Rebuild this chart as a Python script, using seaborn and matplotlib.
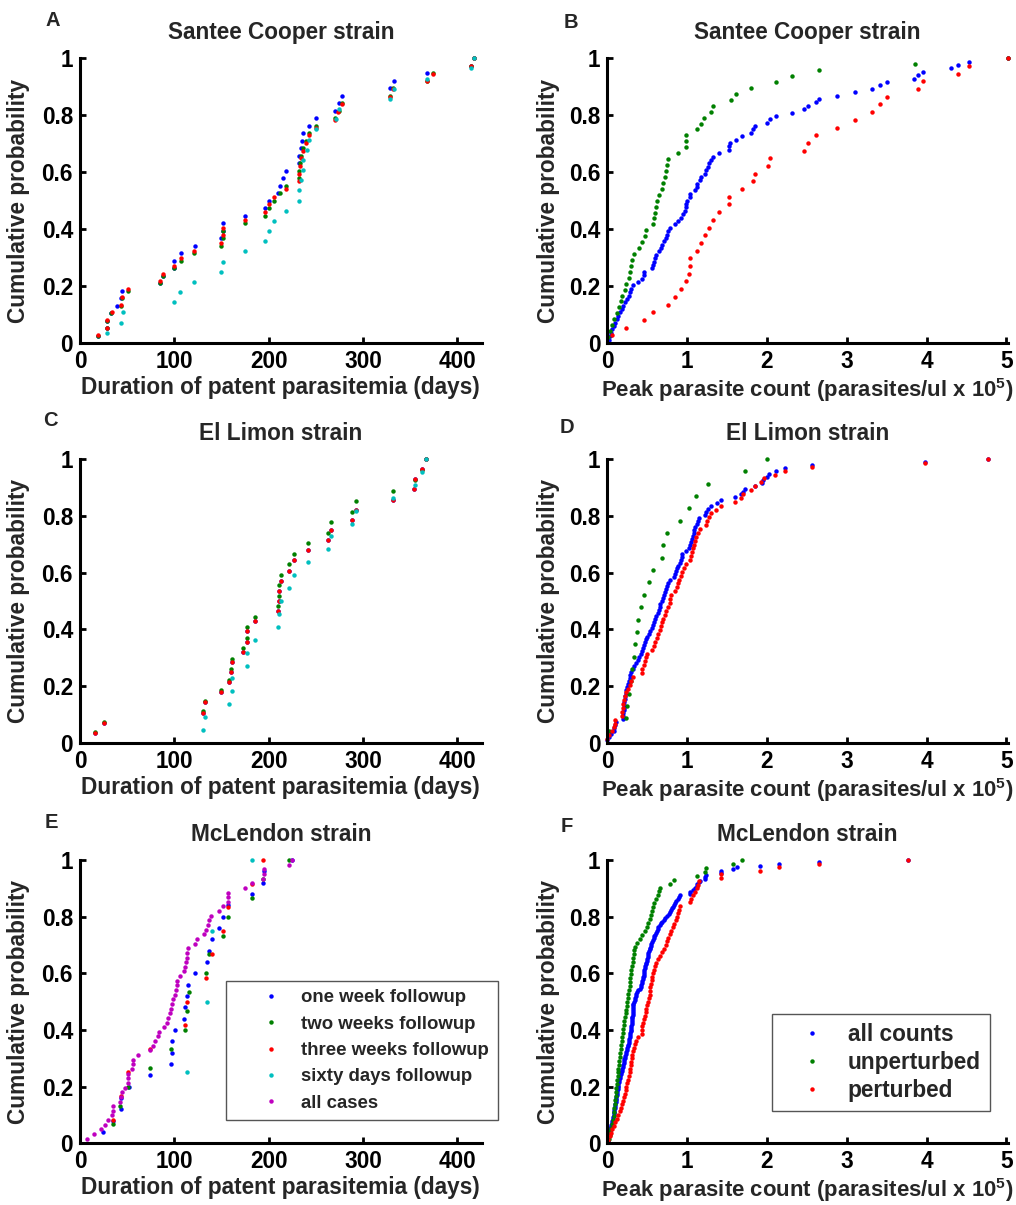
import matplotlib
matplotlib.use("Agg")
import matplotlib.pyplot as plt
import seaborn as sns

# ---------------- data (x values of each empirical CDF) ----------------
# Panel A - Santee Cooper, duration (days)
a_one = [19, 29, 29, 33, 39, 43, 45, 85, 88, 100, 100, 107, 122, 150, 152, 152, 175, 196, 200,
         210, 212, 215, 218, 232, 232, 234, 235, 237, 243, 250, 270, 275, 278, 329, 333, 368, 415, 418]
a_two = [19, 29, 29, 33, 43, 45, 51, 85, 88, 100, 107, 121, 149, 152, 152, 175, 196, 200, 206,
         212, 218, 232, 232, 233, 234, 236, 240, 243, 250, 270, 275, 278, 329, 332, 368, 374, 415, 418]
a_three = [19, 29, 29, 34, 43, 45, 51, 85, 88, 100, 107, 121, 149, 152, 152, 175, 196, 200, 206,
           218, 232, 232, 233, 234, 237, 240, 243, 250, 270, 274, 278, 329, 332, 368, 374, 415, 418]
a_sixty = [29, 43, 46, 100, 106, 121, 149, 152, 175, 196, 200, 206, 218, 232, 232, 234, 236, 237,
           241, 243, 250, 271, 275, 329, 333, 368, 415, 418]

# Panel B - Santee Cooper, peak count (x 1e5)
b_all = [0.02, 0.03, 0.05, 0.06, 0.08, 0.10, 0.12, 0.14, 0.16, 0.18, 0.20, 0.22, 0.25, 0.27, 0.28,
         0.30, 0.32, 0.38, 0.43, 0.46, 0.46, 0.56, 0.57, 0.58, 0.60, 0.61, 0.65, 0.67, 0.69, 0.71,
         0.73, 0.75, 0.76, 0.78, 0.85, 0.88, 0.92, 0.95, 0.97, 0.98, 0.99, 1.00, 1.04, 1.04, 1.10,
         1.12, 1.13, 1.16, 1.18, 1.22, 1.24, 1.26, 1.28, 1.30, 1.33, 1.40, 1.53, 1.53, 1.54, 1.61,
         1.69, 1.80, 1.82, 1.85, 2.00, 2.04, 2.11, 2.31, 2.46, 2.52, 2.61, 2.65, 2.88, 3.10, 3.31,
         3.42, 3.51, 3.84, 3.89, 3.95, 4.31, 4.39, 4.53, 5.02]
b_unpert = [0.01, 0.03, 0.06, 0.09, 0.12, 0.15, 0.17, 0.19, 0.22, 0.23, 0.27, 0.29, 0.30, 0.31,
            0.34, 0.40, 0.44, 0.47, 0.48, 0.57, 0.58, 0.60, 0.61, 0.62, 0.65, 0.68, 0.70, 0.72,
            0.74, 0.75, 0.76, 0.88, 0.98, 0.98, 0.99, 1.12, 1.18, 1.21, 1.30, 1.33, 1.55, 1.61,
            1.80, 2.11, 2.31, 2.65, 3.85, 5.02]
b_pert = [0.06, 0.24, 0.46, 0.57, 0.76, 0.85, 0.92, 0.98, 1.02, 1.04, 1.04, 1.13, 1.18, 1.22,
          1.28, 1.32, 1.40, 1.53, 1.53, 1.69, 1.82, 1.85, 2.01, 2.04, 2.46, 2.51, 2.61, 2.88,
          3.10, 3.31, 3.42, 3.51, 3.89, 3.95, 4.39, 4.53, 5.02]

# Panel C - El Limon, duration (days)
c_one = [16, 25, 130, 133, 150, 158, 160, 161, 173, 177, 177, 186, 210, 211, 211, 213, 222, 227,
         242, 263, 266, 288, 293, 332, 354, 355, 363, 367]
c_two = [16, 25, 130, 133, 150, 158, 160, 161, 173, 177, 177, 186, 210, 211, 211, 213, 222, 227,
         242, 263, 266, 288, 293, 332, 355, 363, 367]
c_three = [16, 25, 130, 133, 150, 158, 160, 161, 173, 177, 177, 186, 210, 211, 211, 213, 222, 227,
           242, 263, 266, 288, 293, 332, 354, 355, 363, 367]
c_sixty = [130, 133, 158, 161, 161, 177, 177, 186, 210, 211, 213, 222, 227, 242, 263, 266, 288,
           293, 332, 355, 363, 367]

# Panel D - El Limon, peak count (x 1e5)
d_all = [0.0, 0.02, 0.05, 0.08, 0.09, 0.10, 0.11, 0.20, 0.20, 0.20, 0.205, 0.21, 0.21, 0.215,
         0.22, 0.225, 0.23, 0.24, 0.25, 0.26, 0.27, 0.28, 0.29, 0.30, 0.32, 0.34, 0.36, 0.38,
         0.40, 0.42, 0.43, 0.445, 0.46, 0.475, 0.49, 0.50, 0.52, 0.54, 0.555, 0.57, 0.585, 0.60,
         0.615, 0.63, 0.645, 0.655, 0.665, 0.68, 0.70, 0.715, 0.725, 0.735, 0.75, 0.765, 0.78,
         0.84, 0.85, 0.86, 0.87, 0.89, 0.91, 0.92, 0.93, 0.94, 0.99, 1.02, 1.04, 1.05, 1.06,
         1.07, 1.08, 1.09, 1.10, 1.12, 1.14, 1.15, 1.23, 1.24, 1.26, 1.30, 1.37, 1.43, 1.60,
         1.68, 1.70, 1.73, 1.85, 1.94, 1.95, 2.00, 2.02, 2.11, 2.23, 2.57, 3.98, 4.77]
d_unpert = [0.02, 0.24, 0.25, 0.27, 0.30, 0.31, 0.34, 0.35, 0.37, 0.38, 0.42, 0.46, 0.52, 0.57,
            0.69, 0.70, 0.745, 0.905, 1.02, 1.11, 1.26, 1.73, 2.00]
d_pert = [0.0, 0.02, 0.06, 0.08, 0.10, 0.10, 0.19, 0.19, 0.20, 0.20, 0.21, 0.22, 0.24, 0.26,
          0.28, 0.30, 0.32, 0.43, 0.44, 0.46, 0.47, 0.48, 0.50, 0.56, 0.58, 0.60, 0.62, 0.64,
          0.655, 0.67, 0.69, 0.70, 0.72, 0.74, 0.76, 0.78, 0.79, 0.80, 0.85, 0.87, 0.885, 0.90,
          0.92, 0.94, 0.96, 0.99, 1.04, 1.05, 1.06, 1.07, 1.08, 1.10, 1.11, 1.14, 1.16, 1.24,
          1.25, 1.28, 1.30, 1.36, 1.43, 1.60, 1.67, 1.70, 1.80, 1.85, 1.93, 1.96, 2.10, 2.22,
          2.57, 3.98, 4.77]

# Panel E - McLendon, duration (days)
e_one = [24.8, 35.4, 43, 44, 52, 74, 96.6, 98, 98, 101, 110, 111.5, 113, 115, 122, 134.5, 137,
         140, 147.6, 152, 157, 182, 194, 195, 225]
e_two = [35.4, 42.5, 51, 74, 96.6, 111.5, 113, 115.8, 134, 137, 152, 157, 182, 194, 222]
e_three = [35.4, 43, 51, 74, 111.5, 113, 134, 140, 152, 157, 182, 194]
e_sixty = [113, 134.5, 140, 182]
e_all = [7.8, 15, 22, 26.5, 30, 33.6, 35.4, 35.4, 42.5, 43, 45, 47.8, 50.6, 51, 51, 55, 56, 56,
         61, 74, 77, 80, 83, 84, 89.6, 92, 93, 95.6, 96.6, 98, 99, 101, 102, 103, 103, 106, 110,
         111, 112, 113, 113, 115, 122, 124.6, 131, 134, 135.6, 137, 139, 147.6, 152, 157, 157,
         157, 175, 182, 194, 195, 195.5, 222, 225]

# Panel F - McLendon, peak count (x 1e5)
f_all = [0.005, 0.01, 0.015, 0.02, 0.025, 0.03, 0.035, 0.04, 0.045, 0.05, 0.055, 0.06, 0.068,
         0.075, 0.08, 0.083, 0.087, 0.09, 0.094, 0.098, 0.10, 0.105, 0.108, 0.112, 0.115, 0.12,
         0.123, 0.127, 0.13, 0.133, 0.137, 0.14, 0.145, 0.15, 0.155, 0.16, 0.168, 0.175, 0.18,
         0.19, 0.195, 0.20, 0.205, 0.21, 0.215, 0.22, 0.225, 0.23, 0.238, 0.245, 0.252, 0.26,
         0.265, 0.268, 0.272, 0.276, 0.28, 0.284, 0.288, 0.292, 0.295, 0.298, 0.302, 0.306,
         0.308, 0.31, 0.312, 0.314, 0.316, 0.318, 0.32, 0.322, 0.324, 0.326, 0.327,
         0.335, 0.342, 0.349, 0.356, 0.363, 0.37, 0.39, 0.41, 0.42, 0.427, 0.434, 0.44, 0.445,
         0.45, 0.455, 0.458, 0.462, 0.466, 0.47, 0.476, 0.482, 0.488, 0.494, 0.50, 0.505, 0.51,
         0.516, 0.525, 0.532, 0.539, 0.546, 0.553, 0.56, 0.57, 0.58, 0.59, 0.60, 0.61, 0.62,
         0.63, 0.64, 0.66, 0.675, 0.69, 0.705, 0.725, 0.745, 0.77, 0.79, 0.80, 0.815, 0.825,
         0.838, 0.85, 0.865, 0.88, 0.895, 0.914, 1.03, 1.04, 1.07, 1.10, 1.12, 1.13, 1.15, 1.16,
         1.22, 1.23, 1.24, 1.42, 1.43, 1.58, 1.62, 1.91, 2.15, 2.65, 3.77]
f_unpert = [0.02, 0.03, 0.04, 0.05, 0.06, 0.07, 0.08, 0.085, 0.09, 0.095, 0.10, 0.105, 0.11,
            0.115, 0.12, 0.125, 0.13, 0.135, 0.14, 0.145, 0.15, 0.155, 0.16, 0.17, 0.175, 0.18,
            0.19, 0.195, 0.20, 0.21, 0.215, 0.22, 0.23, 0.24, 0.245, 0.25, 0.26, 0.265, 0.27,
            0.28, 0.285, 0.29, 0.295, 0.30, 0.31, 0.32, 0.325, 0.33, 0.34, 0.35, 0.37, 0.41,
            0.44, 0.47, 0.50, 0.515, 0.53, 0.545, 0.56, 0.575, 0.59, 0.61, 0.63, 0.65, 0.66,
            0.79, 0.83, 1.13, 1.22, 1.24, 1.58, 1.69]
f_pert = [0.015, 0.03, 0.045, 0.06, 0.08, 0.10, 0.12, 0.14, 0.16, 0.175, 0.185, 0.195, 0.21,
          0.225, 0.235, 0.24, 0.25, 0.26, 0.27, 0.28, 0.29, 0.295, 0.30, 0.31, 0.315, 0.325,
          0.335, 0.35, 0.365, 0.38, 0.43, 0.435, 0.44, 0.45, 0.46, 0.47, 0.48, 0.49, 0.50, 0.51,
          0.52, 0.53, 0.535, 0.54, 0.545, 0.555, 0.565, 0.575, 0.585, 0.595, 0.61, 0.63, 0.66,
          0.69, 0.715, 0.73, 0.746, 0.765, 0.785, 0.80, 0.82, 0.84, 0.855, 0.87, 0.88, 0.895,
          0.906, 1.03, 1.05, 1.07, 1.10, 1.13, 1.14, 1.15, 1.42, 1.43, 1.91, 2.15, 2.65, 3.77]

followup_labels = ["one week followup", "two weeks followup", "three weeks followup",
                   "sixty days followup", "all cases"]
count_labels = ["all counts", "unperturbed", "perturbed"]
titles = ["Santee Cooper strain", "El Limon strain", "McLendon strain"]
panel_letters = ["A", "B", "C", "D", "E", "F"]
y_ticks = [0, 0.2, 0.4, 0.6, 0.8, 1]
days_ticks = [0, 100, 200, 300, 400]
count_ticks = [0, 1, 2, 3, 4, 5]

# ---------------- style ----------------
sns.set_style("ticks")
FONT = "Liberation Sans"
plt.rcParams["font.family"] = [FONT, "DejaVu Sans"]
plt.rcParams["font.weight"] = "bold"
plt.rcParams["axes.labelweight"] = "bold"
plt.rcParams["axes.titleweight"] = "bold"
plt.rcParams["mathtext.fontset"] = "custom"
plt.rcParams["mathtext.rm"] = FONT + ":bold"
plt.rcParams["mathtext.bf"] = FONT + ":bold"
plt.rcParams["mathtext.it"] = FONT + ":bold"

FS = 16.3
COL = {"b": "#0000FF", "g": "#008000", "r": "#FF0000", "c": "#00BFBF", "m": "#BF00BF"}
MS = 3.2

W, H = 1016, 1205
fig = plt.figure(figsize=(W / 100, H / 100), dpi=100)

left_x, right_x = 80, 607.3
ax_w_left, ax_w_right = 401.7, 400.7
rows = [(58.3, 343.0), (459.0, 743.0), (860.0, 1143.3)]


def make_ax(x0, w, top, bottom):
    return fig.add_axes([x0 / W, 1 - bottom / H, w / W, (bottom - top) / H])


def ecdf_dots(ax, values, color):
    sns.ecdfplot(x=values, ax=ax, color=color, linestyle="none", marker="o",
                 markersize=MS, markeredgewidth=0, clip_on=False)
    line = ax.lines[-1]
    line.set_drawstyle("default")
    return line


def style_ax(ax, xticks, xlim, xlabel, title, xlabel_fs):
    ax.set_xlim(*xlim)
    ax.set_ylim(0, 1)
    ax.set_xticks(xticks)
    ax.set_yticks(y_ticks)
    ax.set_xticklabels([f"{v:g}" for v in xticks])
    ax.set_yticklabels([f"{v:g}" for v in y_ticks])
    for s in ["top", "right"]:
        ax.spines[s].set_visible(False)
    for s in ["left", "bottom"]:
        ax.spines[s].set_linewidth(2.2)
        ax.spines[s].set_color("black")
        ax.spines[s].set_capstyle("projecting")
    ax.tick_params(direction="in", length=4, width=2, labelsize=FS, pad=5, colors="black")
    ax.set_xlabel(xlabel, fontsize=xlabel_fs)
    ax.set_ylabel("Cumulative probability", fontsize=FS)
    ax.set_title(title, fontsize=FS, pad=14)


axes = []
for i, (top, bottom) in enumerate(rows):
    axL = make_ax(left_x, ax_w_left, top, bottom)
    axR = make_ax(right_x, ax_w_right, top, bottom)
    axes.append((axL, axR))

# Panel A
axA = axes[0][0]
for vals, c in zip([a_one, a_two, a_three, a_sixty], "bgrc"):
    ecdf_dots(axA, vals, COL[c])
# Panel B
axB = axes[0][1]
for vals, c in zip([b_all, b_unpert, b_pert], "bgr"):
    ecdf_dots(axB, vals, COL[c])
# Panel C
axC = axes[1][0]
for vals, c in zip([c_one, c_two, c_three, c_sixty], "bgrc"):
    ecdf_dots(axC, vals, COL[c])
# Panel D
axD = axes[1][1]
for vals, c in zip([d_all, d_unpert, d_pert], "bgr"):
    ecdf_dots(axD, vals, COL[c])
# Panel E
axE = axes[2][0]
e_lines = []
for vals, c in zip([e_one, e_two, e_three, e_sixty, e_all], "bgrcm"):
    e_lines.append(ecdf_dots(axE, vals, COL[c]))
# Panel F
axF = axes[2][1]
f_lines = []
for vals, c in zip([f_all, f_unpert, f_pert], "bgr"):
    f_lines.append(ecdf_dots(axF, vals, COL[c]))

days_label = "Duration of patent parasitemia (days)"
count_label = r"Peak parasite count (parasites/ul x 10$^{\mathbf{5}}$)"
for i in range(3):
    style_ax(axes[i][0], days_ticks, (0, 426), days_label, titles[i], FS)
    style_ax(axes[i][1], count_ticks, (0, 5.02), count_label, titles[i], 15.9)
    axes[i][0].yaxis.set_label_coords(-0.124, 0.5)
    axes[i][1].yaxis.set_label_coords(-0.118, 0.5)
    axes[i][0].xaxis.set_label_coords(0.5, -0.115)
    axes[i][1].xaxis.set_label_coords(0.5, -0.115)

# Legends
legE = axE.legend(e_lines, followup_labels, loc="upper left",
                  bbox_to_anchor=(226 / W, 1 - 981 / H), bbox_transform=fig.transFigure,
                  fontsize=13.4, frameon=True, fancybox=False, framealpha=1,
                  edgecolor="#555555", borderpad=0.45, labelspacing=0.5,
                  handlelength=3.9, handletextpad=-0.3, numpoints=1, borderaxespad=0)
legE.get_frame().set_linewidth(1.0)
legF = axF.legend(f_lines, count_labels, loc="upper left",
                  bbox_to_anchor=(771.7 / W, 1 - 1014 / H), bbox_transform=fig.transFigure,
                  fontsize=FS, frameon=True, fancybox=False, framealpha=1,
                  edgecolor="#555555", borderpad=0.4, labelspacing=0.22,
                  handlelength=2.8, handletextpad=0.15, numpoints=1, borderaxespad=0)
legF.get_frame().set_linewidth(1.0)

# Panel letters
letter_pos = [(53, 20), (571, 22), (50, 421), (567, 427), (51, 823), (567, 826)]
for letter, (px, py) in zip(panel_letters, letter_pos):
    fig.text(px / W, 1 - py / H, letter, fontsize=14.5, fontweight="bold",
             ha="center", va="center")

fig.savefig("out.png", dpi=100)
